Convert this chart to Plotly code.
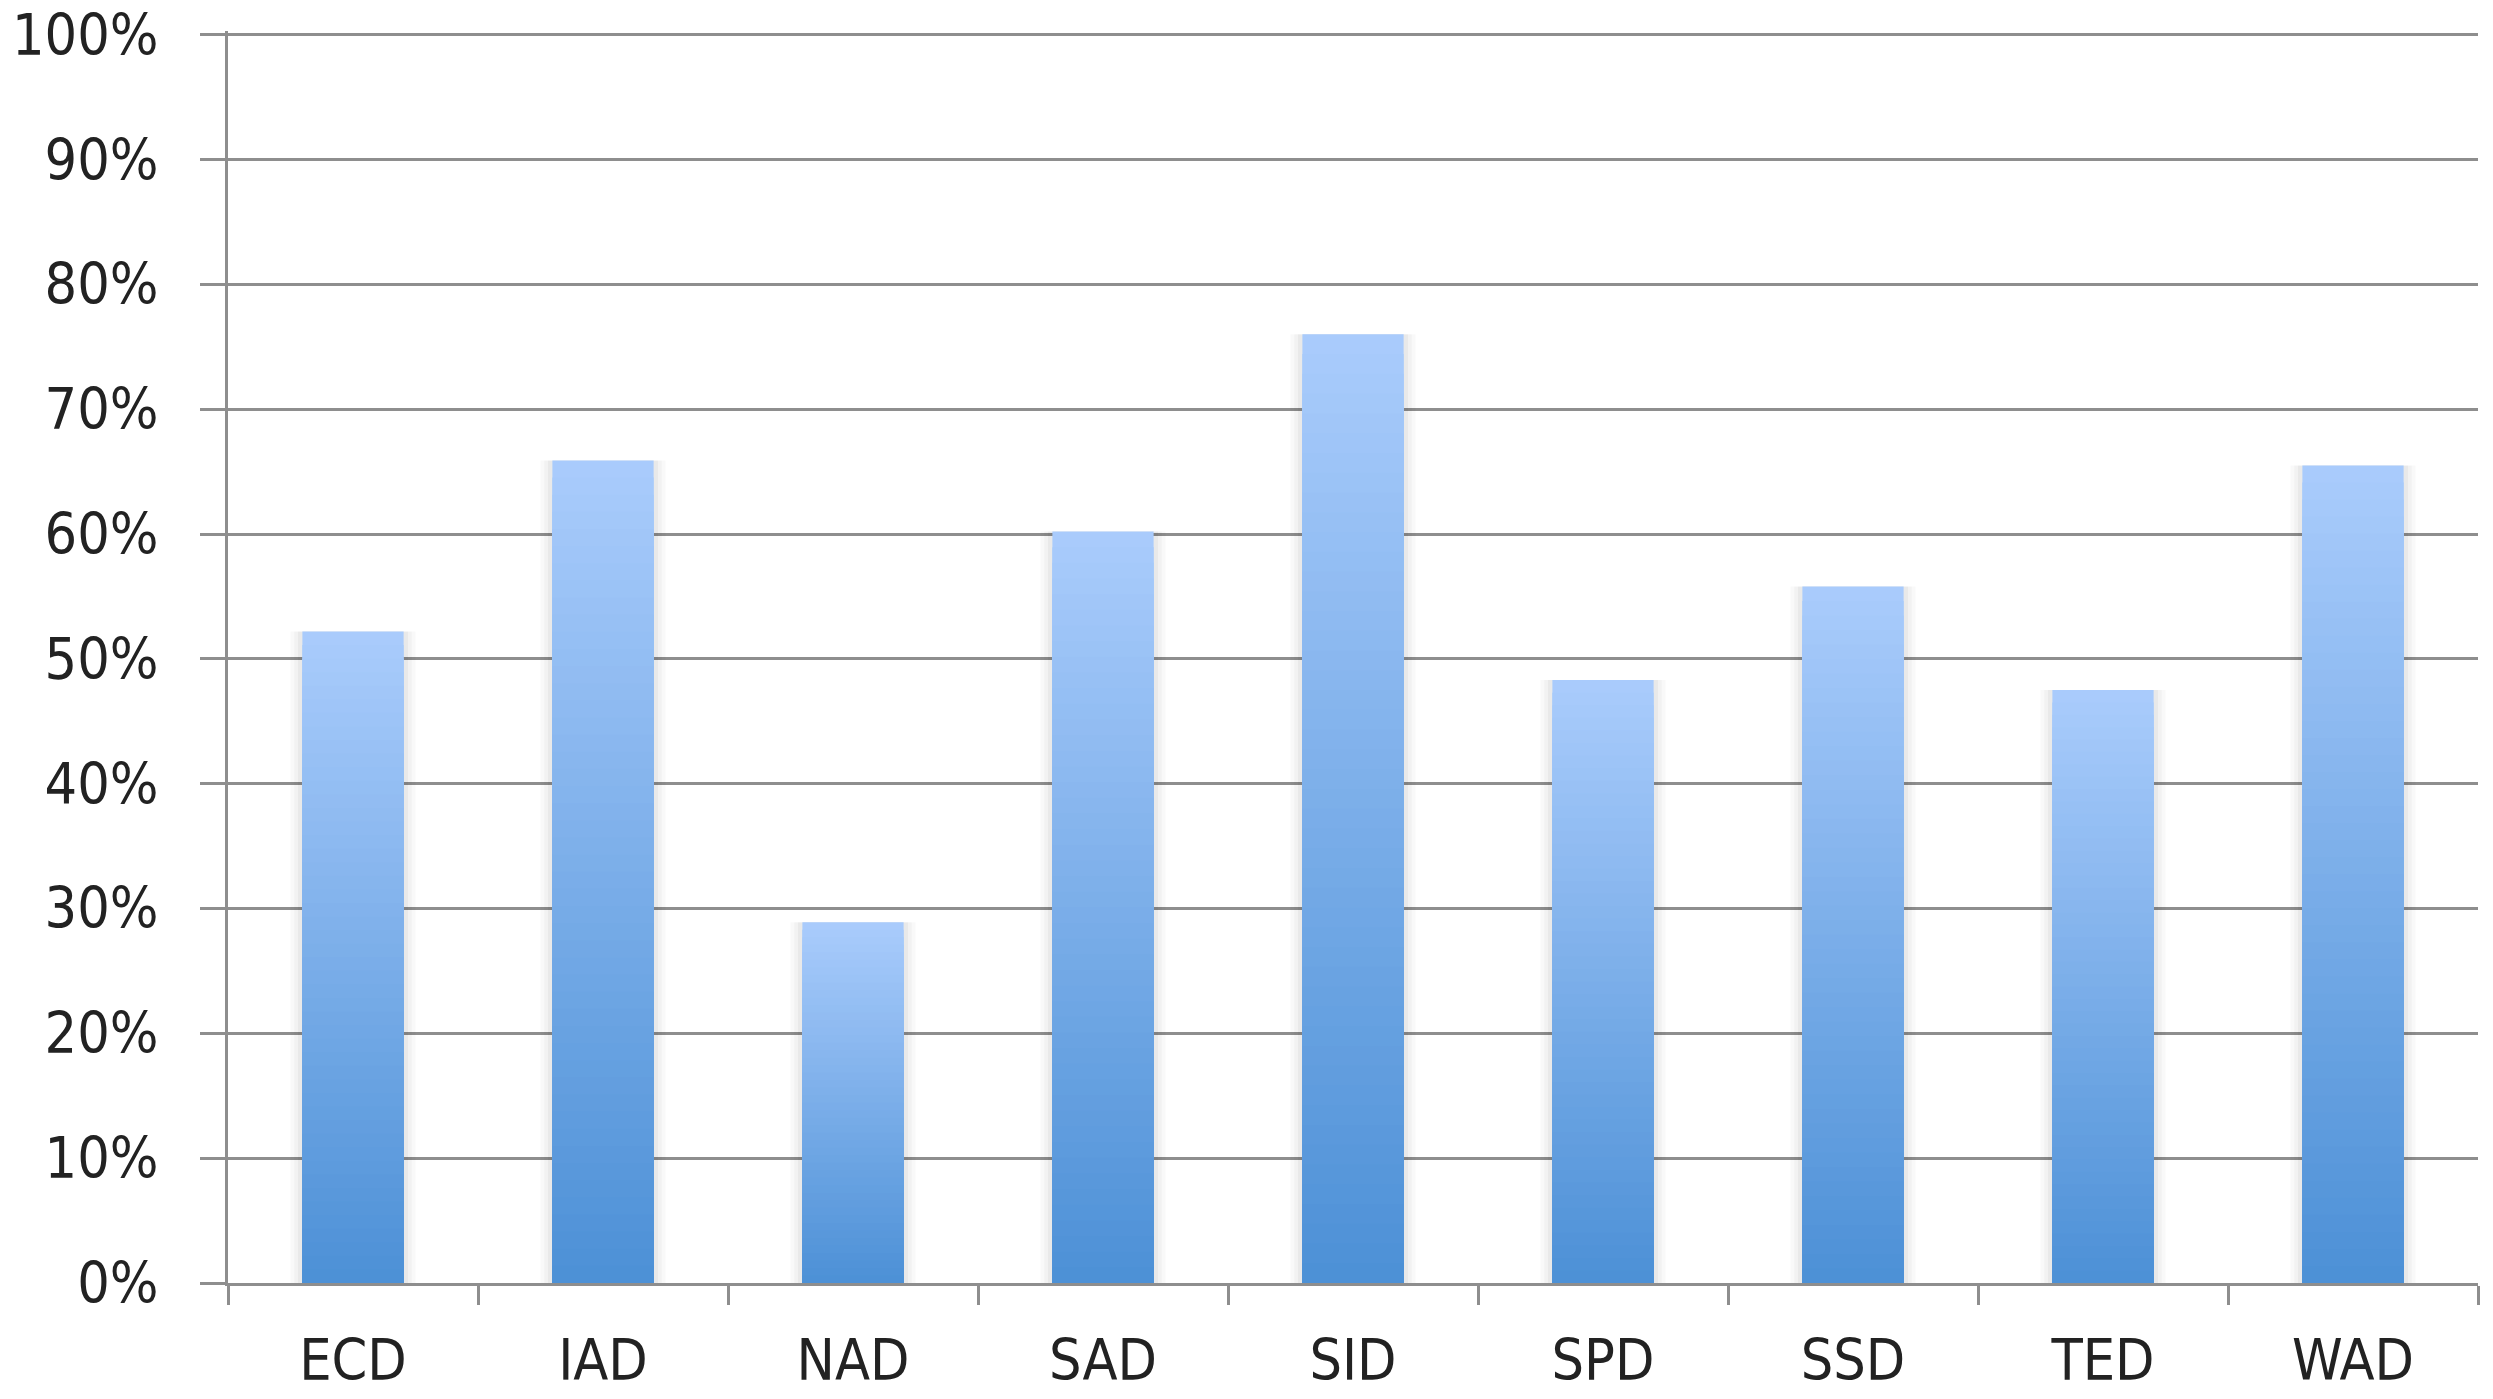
import plotly.graph_objects as go

categories = ["ECD", "IAD", "NAD", "SAD", "SID", "SPD", "SSD", "TED", "WAD"]
values = [0.522, 0.659, 0.289, 0.602, 0.760, 0.483, 0.558, 0.475, 0.655]
y_ticks = [0, 0.1, 0.2, 0.3, 0.4, 0.5, 0.6, 0.7, 0.8, 0.9, 1.0]

TOP = (170, 204, 252)
BOTTOM = (76, 144, 214)
GRID = "#8e8e8e"
BAR_W = 0.405
N_LAYERS = 48
Y_MAX = 1.003

def mix(t):
    r = [round(BOTTOM[i] + (TOP[i] - BOTTOM[i]) * t) for i in range(3)]
    return f"rgb({r[0]},{r[1]},{r[2]})"

fig = go.Figure()

# soft shadow behind the bars
for extra, alpha in [(0.095, 0.022), (0.065, 0.028), (0.035, 0.035)]:
    fig.add_trace(go.Bar(x=categories, y=values, width=BAR_W + extra,
                         marker=dict(color=f"rgba(0,0,0,{alpha})", line=dict(width=0)),
                         showlegend=False, hoverinfo="skip"))

# gradient bars: full-height data trace, then darker layers overlaid from the base
for k in range(N_LAYERS):
    frac = (N_LAYERS - k) / N_LAYERS
    t = (N_LAYERS - k - 0.5) / N_LAYERS
    fig.add_trace(go.Bar(x=categories, y=[v * frac for v in values], width=BAR_W,
                         marker=dict(color=mix(t), line=dict(width=0)),
                         name="Share" if k == 0 else None,
                         showlegend=False,
                         hoverinfo="skip" if k else None))

font_family = "DejaVu Sans Condensed, DejaVu Sans"
FS = 57
fig.update_layout(
    width=2493, height=1399,
    barmode="overlay",
    plot_bgcolor="white", paper_bgcolor="white",
    margin=dict(l=228, r=15, t=31, b=116, autoexpand=False),
    font=dict(family=font_family, size=FS, color="#222222"),
    showlegend=False,
)
fig.update_xaxes(
    type="category", tickson="boundaries", automargin=False,
    ticks="outside", ticklen=19, tickwidth=2.5, tickcolor=GRID,
    showline=True, linecolor=GRID, linewidth=3,
    showgrid=False, ticklabelstandoff=26,
    tickfont=dict(size=FS, color="#222222"),
)
fig.update_yaxes(
    range=[0, Y_MAX], tickvals=y_ticks, tickformat=".0%", automargin=False,
    ticks="outside", ticklen=25, tickwidth=2.5, tickcolor=GRID,
    showline=True, linecolor=GRID, linewidth=3,
    showgrid=True, gridcolor=GRID, gridwidth=2.5, zeroline=False,
    ticklabelstandoff=30, ticklabeloverflow="allow",
    tickfont=dict(size=FS, color="#222222"),
)

fig.write_html("out.html", config={"displayModeBar": False},
               post_script="document.body.style.margin='0';document.body.style.overflow='hidden';")
